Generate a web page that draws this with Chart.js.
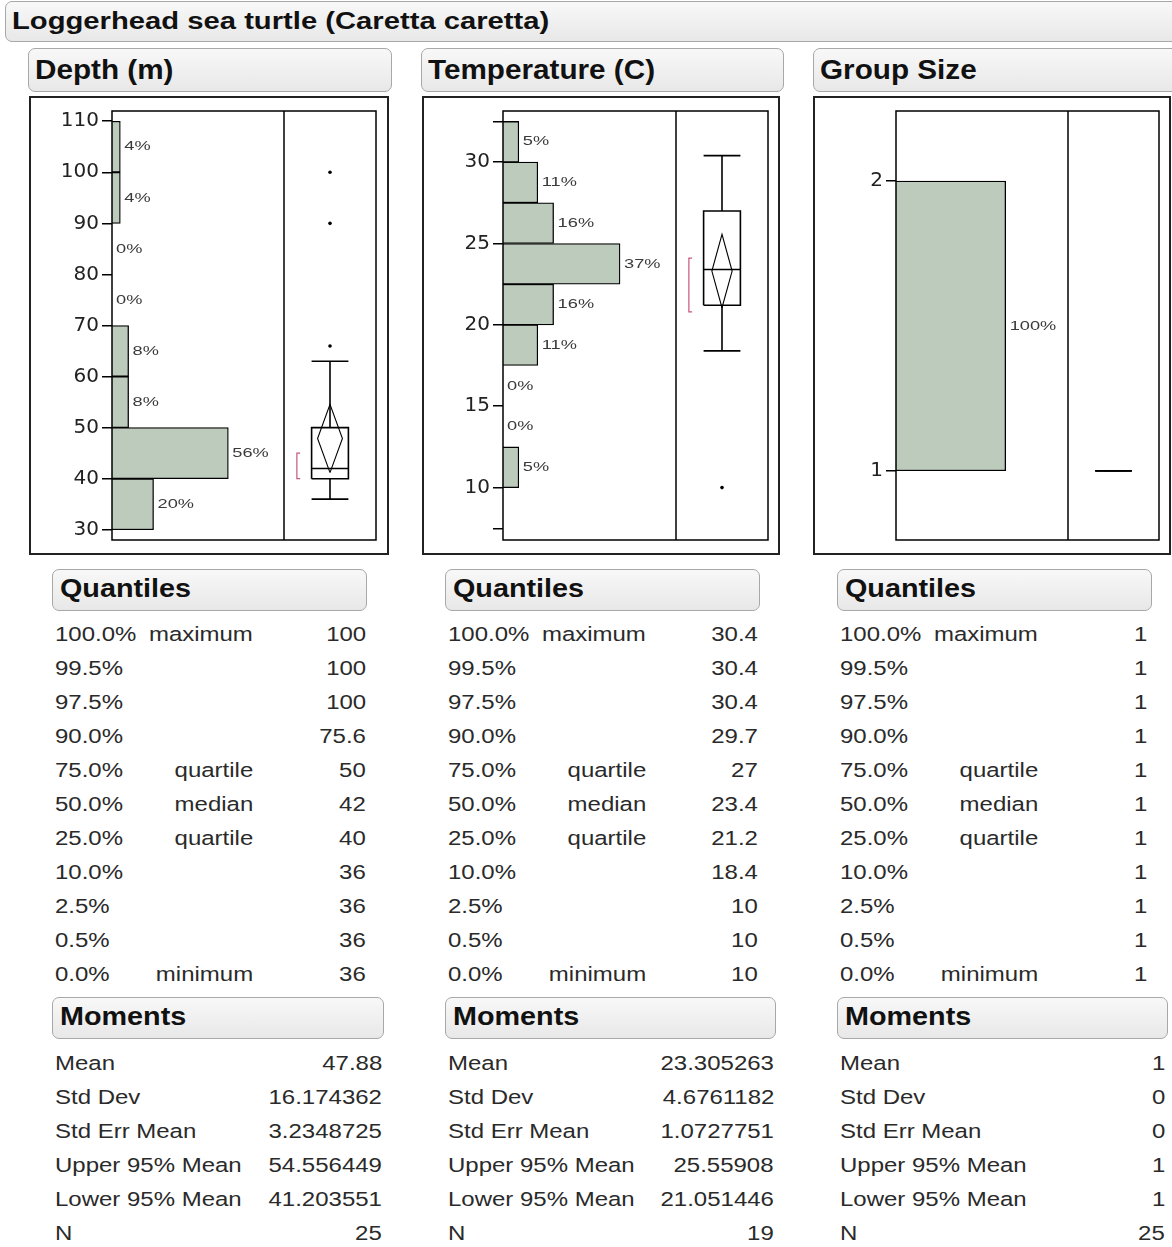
<!DOCTYPE html>
<html>
<head>
<meta charset="utf-8">
<script src="https://cdn.jsdelivr.net/npm/chart.js@4.4.0/dist/chart.umd.min.js"></script>
<style>
body { margin: 0; background: #fff; overflow: hidden; font-family: "Liberation Sans", Arial, sans-serif; color: #2a2a2a; }
#page { position: relative; width: 1172px; height: 1247px; overflow: hidden; }
.hdr { position: absolute; box-sizing: border-box; border: 1px solid #a8a8a8; border-radius: 7px;
       background: linear-gradient(#f8f8f8, #e8e8e8); white-space: nowrap; overflow: hidden; color: #111; font-weight: bold; }
.hdr span { display: inline-block; transform-origin: left center; }
.frame { position: absolute; box-sizing: border-box; border: 2px solid #222; background: #fff; }
.frame div { position: absolute; left: 0; top: 0; }
.txt { position: absolute; white-space: nowrap; font-size: 20.5px; line-height: 24px; }
.txt.l { transform-origin: left center; transform: scaleX(1.17); }
.txt.r { transform-origin: right center; transform: scaleX(1.17); }
</style>
</head>
<body>
<div id="page"></div>
<script>
// histogram bins (bin centres) and percentages
const depthBins = [35, 45, 55, 65, 75, 85, 95, 105];
const depthPct = [20, 56, 8, 8, 0, 0, 4, 4];
const depthTicks = [30, 40, 50, 60, 70, 80, 90, 100, 110];
// lower whisker, Q1, median, Q3, upper whisker
const depthBox = [36, 40, 42, 50, 63];
const depthOutliers = [66, 90, 100];
const depthMeanCI = [41.203551, 47.88, 54.556449];
const depthShortHalf = [40, 45];

const tempBins = [11.25, 13.75, 16.25, 18.75, 21.25, 23.75, 26.25, 28.75, 31.25];
const tempPct = [5, 0, 0, 11, 16, 37, 16, 11, 5];
const tempTicks = [7.5, 10, 15, 20, 25, 30, 32.5];
const tempBox = [18.4, 21.2, 23.4, 27, 30.4];
const tempOutliers = [10];
const tempMeanCI = [21.051446, 23.305263, 25.55908];
const tempShortHalf = [20.8, 24.1];

const groupBins = [1.5];
const groupPct = [100];
const groupTicks = [1, 2];
const groupBox = [1, 1, 1, 1, 1];
const groupOutliers = [];
const groupMeanCI = [1, 1, 1];

// tables
const quantLevels = ['100.0%', '99.5%', '97.5%', '90.0%', '75.0%', '50.0%', '25.0%', '10.0%', '2.5%', '0.5%', '0.0%'];
const quantNames = ['maximum', '', '', '', 'quartile', 'median', 'quartile', '', '', '', 'minimum'];
const depthQuantiles = ['100', '100', '100', '75.6', '50', '42', '40', '36', '36', '36', '36'];
const tempQuantiles = ['30.4', '30.4', '30.4', '29.7', '27', '23.4', '21.2', '18.4', '10', '10', '10'];
const groupQuantiles = ['1', '1', '1', '1', '1', '1', '1', '1', '1', '1', '1'];

const momentNames = ['Mean', 'Std Dev', 'Std Err Mean', 'Upper 95% Mean', 'Lower 95% Mean', 'N'];
const depthMoments = ['47.88', '16.174362', '3.2348725', '54.556449', '41.203551', '25'];
const tempMoments = ['23.305263', '4.6761182', '1.0727751', '25.55908', '21.051446', '19'];
const groupMoments = ['1', '0', '0', '1', '1', '25'];

const PAGE_W = 1172;
const page = document.getElementById('page');

const panels = [
    { title: 'Depth (m)', ox: 0, frame: [29, 96, 360, 459], axisW: 81, padRight: 11, yMin: 28.0, yMax: 112.0,
      ticks: depthTicks, bins: depthBins, pct: depthPct, histMax: 82.8, weights: [172, 92],
      box: depthBox, outliers: depthOutliers, mean: depthMeanCI, shortHalf: depthShortHalf, dia: 0.135,
      quant: depthQuantiles, mom: depthMoments, qRight: 366, mRight: 382, hdrW: 364, mW: 332 },
    { title: 'Temperature (C)', ox: 393, frame: [422, 96, 358, 459], axisW: 79, padRight: 10, yMin: 6.78, yMax: 33.14,
      ticks: tempTicks, bins: tempBins, pct: tempPct, histMax: 54.7, weights: [173, 92],
      box: tempBox, outliers: tempOutliers, mean: tempMeanCI, shortHalf: tempShortHalf, dia: 0.11,
      quant: tempQuantiles, mom: tempMoments, qRight: 758, mRight: 774, hdrW: 363, mW: 331 },
    { title: 'Group Size', ox: 785, frame: [813, 96, 358, 459], axisW: 81, padRight: 10, yMin: 0.761, yMax: 2.242,
      ticks: groupTicks, bins: groupBins, pct: groupPct, histMax: 156.8, weights: [172, 91],
      box: groupBox, outliers: groupOutliers, mean: groupMeanCI, shortHalf: null, dia: 0.1,
      quant: groupQuantiles, mom: groupMoments, qRight: 1147, mRight: 1165, hdrW: 380, mW: 331 }
];

function addHeader(str, x, y, w, h, size, sx, lh, padLeft) {
    const d = document.createElement('div');
    d.className = 'hdr';
    Object.assign(d.style, { left: x + 'px', top: y + 'px', width: w + 'px', height: h + 'px',
        fontSize: size + 'px', lineHeight: lh + 'px', paddingLeft: padLeft + 'px' });
    const s = document.createElement('span');
    s.textContent = str;
    s.style.transform = 'scaleX(' + sx + ')';
    d.appendChild(s);
    page.appendChild(d);
}

function addText(str, x, top, align) {
    const d = document.createElement('div');
    d.className = 'txt ' + align;
    d.textContent = str;
    if (align === 'r') d.style.right = (PAGE_W - x) + 'px';
    else d.style.left = x + 'px';
    d.style.top = top + 'px';
    page.appendChild(d);
}

// draws the plot frame and the divider between histogram and box plot
const framePlugin = {
    id: 'frame',
    afterDraw(chart) {
        const { ctx, chartArea } = chart;
        ctx.save();
        ctx.strokeStyle = '#000';
        ctx.lineWidth = 1.5;
        ctx.strokeRect(chartArea.left, chartArea.top, chartArea.width, chartArea.height);
        const xd = chart.scales.x.right;
        ctx.beginPath();
        ctx.moveTo(xd, chartArea.top);
        ctx.lineTo(xd, chartArea.bottom);
        ctx.stroke();
        ctx.restore();
    }
};

// percentage labels next to the histogram bars
const pctLabels = {
    id: 'pctLabels',
    afterDatasetsDraw(chart) {
        const ctx = chart.ctx;
        const meta = chart.getDatasetMeta(0);
        const vals = chart.data.datasets[0].data;
        ctx.save();
        ctx.font = '13.5px "Liberation Sans", Arial, sans-serif';
        ctx.fillStyle = '#3a3a3a';
        ctx.textBaseline = 'middle';
        meta.data.forEach((bar, i) => {
            ctx.save();
            ctx.translate(bar.x + 4, bar.y);
            ctx.scale(1.35, 1);
            ctx.fillText(vals[i].x + '%', 0, 0);
            ctx.restore();
        });
        ctx.restore();
    }
};

function boxPlotSets(p) {
    const [lo, q1, med, q3, hi] = p.box;
    const boxL = 0.3, boxR = 0.7, mid = 0.5, brk = 0.14;
    const line = (pts, color, w) => ({
        type: 'line', xAxisID: 'x2', yAxisID: 'y',
        data: pts.map(q => ({ x: q[0], y: q[1] })),
        borderColor: color || '#000', borderWidth: w || 1.6,
        pointRadius: 0, fill: false, tension: 0
    });
    const sets = [
        line([[boxL, q1], [boxR, q1], [boxR, q3], [boxL, q3], [boxL, q1]]),
        line([[boxL, med], [boxR, med]]),
        line([[mid, q3], [mid, hi]]),
        line([[boxL, hi], [boxR, hi]]),
        line([[mid, q1], [mid, lo]]),
        line([[boxL, lo], [boxR, lo]]),
        line([[mid, p.mean[0]], [mid + p.dia, p.mean[1]], [mid, p.mean[2]], [mid - p.dia, p.mean[1]], [mid, p.mean[0]]], '#000', 1.1)
    ];
    if (p.shortHalf) {
        const s = p.shortHalf;
        sets.push(line([[brk + 0.035, s[0]], [brk, s[0]], [brk, s[1]], [brk + 0.035, s[1]]], '#c8577a', 1.2));
    }
    if (p.outliers.length) {
        sets.push({
            type: 'scatter', xAxisID: 'x2', yAxisID: 'y',
            data: p.outliers.map(v => ({ x: mid, y: v })),
            pointRadius: 1.8, pointBackgroundColor: '#000', pointBorderWidth: 0, showLine: false
        });
    }
    return sets;
}

function makePanel(p, idx) {
    addHeader(p.title, 28 + p.ox, 48, p.hdrW, 44, 28, 1.06, 42, 6);

    const [fx, fy, fw, fh] = p.frame;
    const frame = document.createElement('div');
    frame.className = 'frame';
    Object.assign(frame.style, { left: fx + 'px', top: fy + 'px', width: fw + 'px', height: fh + 'px' });
    const holder = document.createElement('div');
    holder.style.width = (fw - 4) + 'px';
    holder.style.height = (fh - 4) + 'px';
    const canvas = document.createElement('canvas');
    canvas.id = 'chart' + idx;
    holder.appendChild(canvas);
    frame.appendChild(holder);
    page.appendChild(frame);

    const histogram = {
        type: 'bar', indexAxis: 'y', xAxisID: 'x', yAxisID: 'y',
        data: p.bins.map((b, i) => ({ y: b, x: p.pct[i] })),
        backgroundColor: 'rgb(188,203,188)',
        borderColor: '#000',
        borderWidth: 1.3,
        grouped: false,
        barPercentage: 1,
        categoryPercentage: 1
    };

    new Chart(canvas.getContext('2d'), {
        type: 'bar',
        data: { datasets: [histogram].concat(boxPlotSets(p)) },
        options: {
            responsive: true,
            maintainAspectRatio: false,
            animation: false,
            layout: { padding: { top: 11, right: p.padRight, bottom: 10, left: 0 } },
            plugins: { legend: { display: false }, tooltip: { enabled: false } },
            scales: {
                y: {
                    type: 'linear', position: 'left', min: p.yMin, max: p.yMax,
                    offset: false, beginAtZero: false,
                    afterBuildTicks: s => { s.ticks = p.ticks.map(v => ({ value: v })); },
                    afterFit: s => { s.width = p.axisW; },
                    ticks: {
                        color: '#222', padding: 3,
                        font: { family: '"DejaVu Sans", sans-serif', size: 20, lineHeight: 1 },
                        callback: v => (v % 5 === 0 || p.ticks.length < 5) ? String(v) : ''
                    },
                    grid: { display: true, offset: false, drawOnChartArea: false, drawTicks: true, tickLength: 10, color: '#000', lineWidth: 1.5 },
                    border: { display: false }
                },
                x: {
                    type: 'linear', axis: 'x', position: 'bottom', min: 0, max: p.histMax,
                    offset: false, grid: { offset: false },
                    display: false, stack: 'plot', stackWeight: p.weights[0]
                },
                x2: {
                    type: 'linear', axis: 'x', position: 'bottom', min: 0, max: 1,
                    offset: false, grid: { offset: false },
                    display: false, stack: 'plot', stackWeight: p.weights[1]
                }
            }
        },
        plugins: [framePlugin, pctLabels]
    });

    // Quantiles table
    addHeader('Quantiles', 52 + p.ox, 569, 315, 42, 25, 1.15, 37, 7);
    quantLevels.forEach((lvl, i) => {
        const top = 622 + 34 * i;
        addText(lvl, 55 + p.ox, top, 'l');
        if (quantNames[i]) addText(quantNames[i], 253 + p.ox, top, 'r');
        addText(p.quant[i], p.qRight, top, 'r');
    });

    // Moments table
    addHeader('Moments', 52 + p.ox, 997, p.mW, 42, 25, 1.15, 37, 7);
    momentNames.forEach((name, i) => {
        const top = 1051 + 34 * i;
        addText(name, 55 + p.ox, top, 'l');
        addText(p.mom[i], p.mRight, top, 'r');
    });
}

addHeader('Loggerhead sea turtle (Caretta caretta)', 5, 1, 1180, 41, 23, 1.27, 39, 6);
panels.forEach(makePanel);
</script>
</body>
</html>
